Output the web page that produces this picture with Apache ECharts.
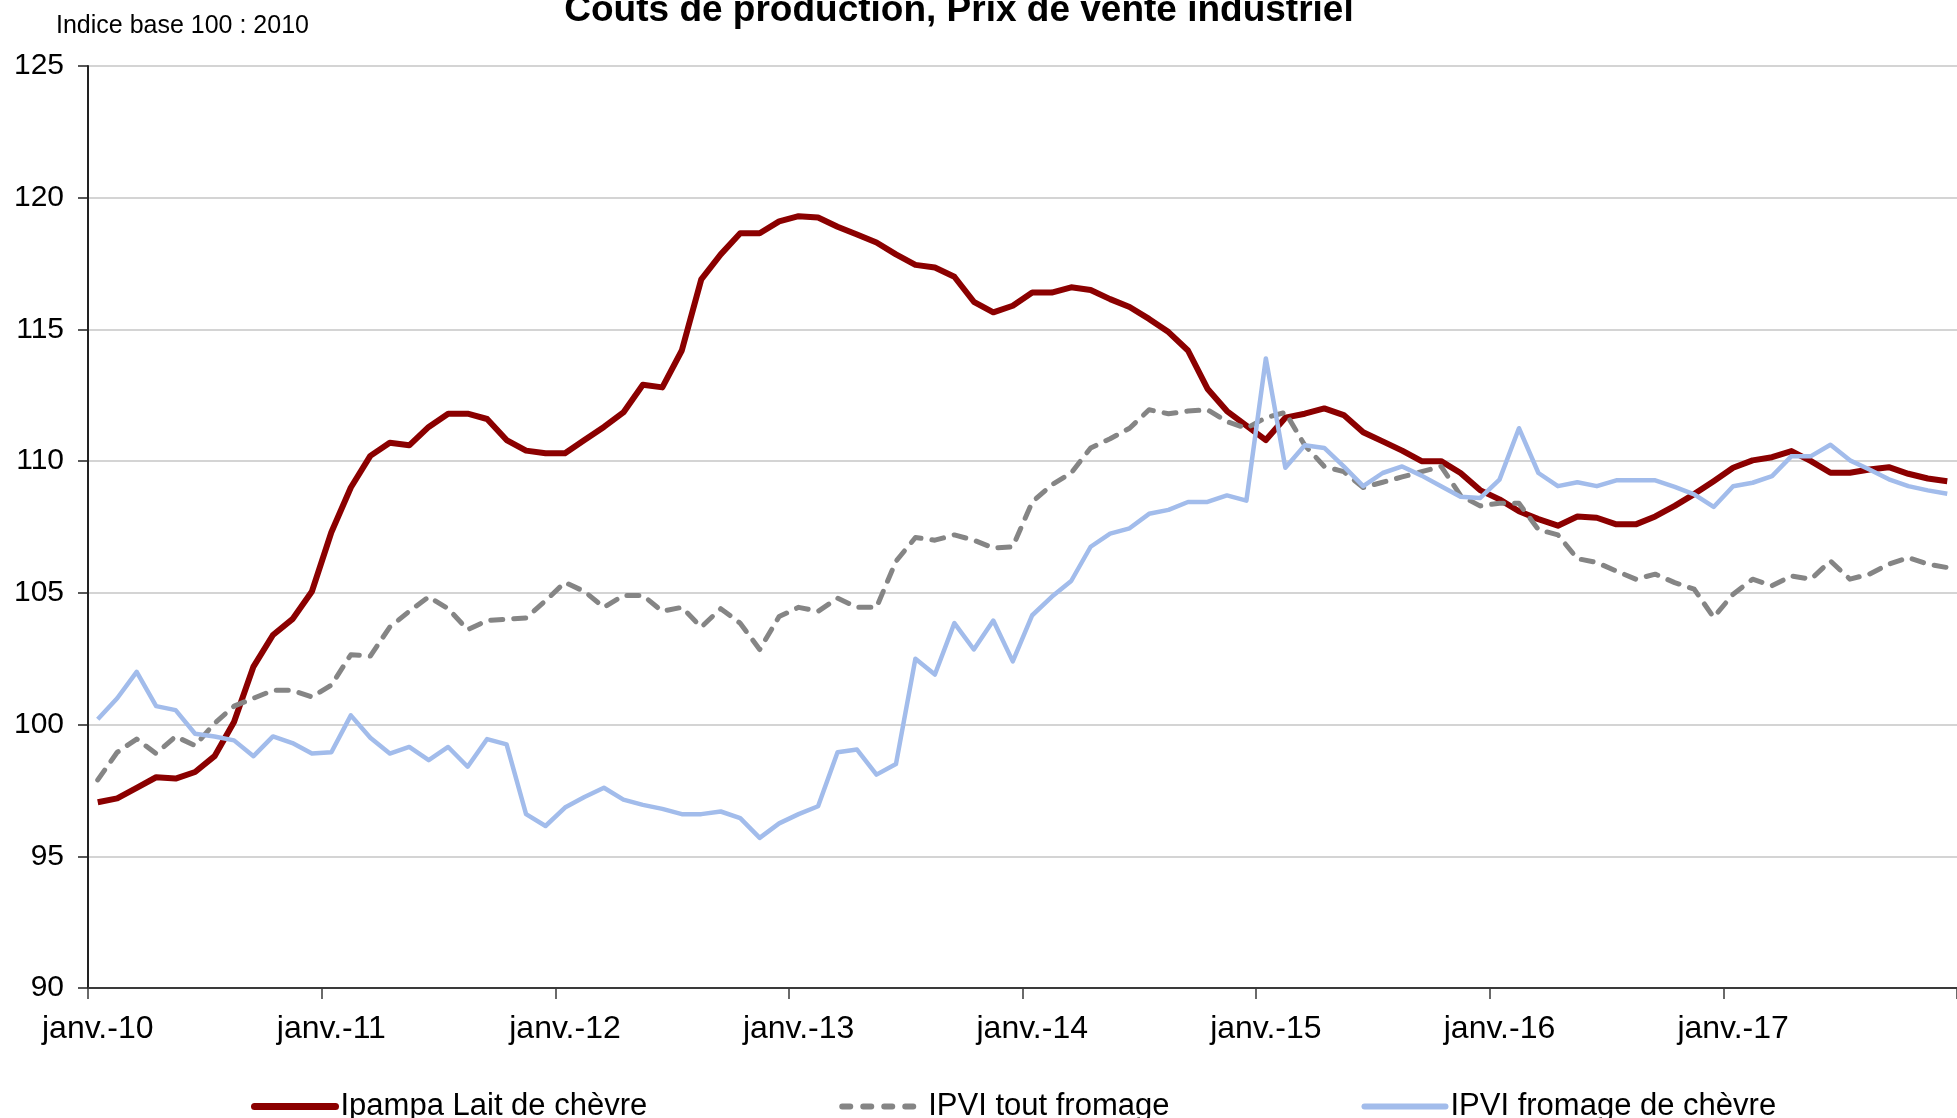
<!DOCTYPE html>
<html>
<head>
    <meta charset="utf-8">
    <title>Coûts de production, Prix de vente industriel</title>
    <script src="https://cdn.jsdelivr.net/npm/echarts@6/dist/echarts.min.js"></script>
    <style>
        html, body { margin: 0; padding: 0; background: #fff; }
        #main { width: 1957px; height: 1118px; }
    </style>
</head>
<body>
    <div id="main"></div>
    <script type="text/javascript">
        // mois de janv.-10 à déc.-17
        var moisNoms = ['janv.', 'févr.', 'mars', 'avr.', 'mai', 'juin', 'juil.', 'août', 'sept.', 'oct.', 'nov.', 'déc.'];
        var annees = ['10', '11', '12', '13', '14', '15', '16', '17'];
        var categories = [];
        for (var a = 0; a < annees.length; a++) {
            for (var m = 0; m < moisNoms.length; m++) {
                categories.push(moisNoms[m] + '-' + annees[a]);
            }
        }

        var seriesNames = ['Ipampa Lait de chèvre', 'IPVI tout fromage', 'IPVI fromage de chèvre'];

        var ipampaLait = [
            97.05, 97.2, 97.6, 98.0, 97.95, 98.2, 98.8, 100.1, 102.2, 103.4, 104.0, 105.05,
            107.3, 109.0, 110.2, 110.7, 110.6, 111.3, 111.8, 111.8, 111.6, 110.8, 110.4, 110.3,
            110.3, 110.8, 111.3, 111.85, 112.9, 112.8, 114.2, 116.9, 117.85, 118.65, 118.65, 119.1,
            119.3, 119.25, 118.9, 118.6, 118.3, 117.85, 117.45, 117.35, 117.0, 116.05, 115.65, 115.9,
            116.4, 116.4, 116.6, 116.5, 116.15, 115.85, 115.4, 114.9, 114.2, 112.75, 111.9, 111.35,
            110.8, 111.65, 111.8, 112.0, 111.75, 111.1, 110.75, 110.4, 110.0, 110.0, 109.55, 108.9,
            108.55, 108.1, 107.8, 107.55, 107.9, 107.85, 107.6, 107.6, 107.9, 108.3, 108.75, 109.24,
            109.75, 110.03, 110.15, 110.38, 110.0, 109.56, 109.56, 109.68, 109.77, 109.52, 109.34, 109.24
        ];
        var ipviToutFromage = [
            97.9, 98.95, 99.45, 98.9, 99.55, 99.2, 100.05, 100.7, 101.0, 101.3, 101.3, 101.05,
            101.5, 102.65, 102.6, 103.7, 104.3, 104.85, 104.4, 103.6, 103.95, 104.0, 104.05, 104.7,
            105.4, 105.05, 104.45, 104.9, 104.9, 104.3, 104.45, 103.7, 104.4, 103.85, 102.85, 104.1,
            104.45, 104.3, 104.8, 104.45, 104.45, 106.2, 107.1, 107.0, 107.2, 107.0, 106.7, 106.75,
            108.45, 109.1, 109.55, 110.5, 110.85, 111.25, 111.95, 111.8, 111.9, 111.95, 111.5, 111.25,
            111.65, 111.85, 110.6, 109.8, 109.6, 109.0, 109.2, 109.4, 109.6, 109.8, 108.7, 108.3,
            108.4, 108.4, 107.4, 107.2, 106.3, 106.15, 105.83, 105.52, 105.71, 105.39, 105.14, 104.07,
            104.95, 105.52, 105.27, 105.64, 105.52, 106.21, 105.52, 105.71, 106.09, 106.34, 106.09, 105.96
        ];
        var ipviChevre = [
            100.2, 101.0, 102.0, 100.7, 100.55, 99.65, 99.55, 99.4, 98.8, 99.55, 99.3, 98.9,
            98.95, 100.35, 99.5, 98.9, 99.15, 98.65, 99.15, 98.4, 99.45, 99.25, 96.6, 96.15,
            96.85, 97.25, 97.6, 97.15, 96.95, 96.8, 96.6, 96.6, 96.7, 96.45, 95.7, 96.25,
            96.6, 96.9, 98.95, 99.05, 98.1, 98.5, 102.5, 101.9, 103.85, 102.85, 103.95, 102.4,
            104.15, 104.85, 105.45, 106.75, 107.25, 107.45, 108.0, 108.15, 108.45, 108.45, 108.7, 108.5,
            113.9, 109.75, 110.6, 110.5, 109.8, 109.05, 109.55, 109.8, 109.45, 109.05, 108.65, 108.6,
            109.3, 111.25, 109.55, 109.05, 109.2, 109.05, 109.27, 109.27, 109.27, 109.02, 108.74, 108.26,
            109.05, 109.18, 109.43, 110.19, 110.19, 110.62, 110.03, 109.68, 109.31, 109.05, 108.89, 108.76
        ];

        var yMin = 90, yMax = 125, yStep = 5;
        var police = 'Liberation Sans, Arial, sans-serif';
        var couleurs = ['#8b0000', '#858585', '#a2bceb'];

        var myChart = echarts.init(document.getElementById('main'));
        var option = {
            backgroundColor: '#ffffff',
            animation: false,
            title: [
                {
                    text: 'Coûts de production, Prix de vente industriel',
                    left: 954,
                    top: -13,
                    textAlign: 'center',
                    textStyle: { fontFamily: police, fontSize: 37, fontWeight: 'bold', color: '#000' }
                },
                {
                    text: 'Indice base 100 : 2010',
                    left: 51,
                    top: 9,
                    textStyle: { fontFamily: police, fontSize: 25, fontWeight: 'normal', color: '#000' }
                }
            ],
            legend: {
                data: [
                    { name: seriesNames[0], itemStyle: { opacity: 0 }, lineStyle: { width: 7, cap: 'round' } },
                    { name: seriesNames[1], itemStyle: { opacity: 0 }, lineStyle: { width: 6, cap: 'round', type: [8, 13] } },
                    { name: seriesNames[2], itemStyle: { opacity: 0 }, lineStyle: { width: 6, cap: 'round' } }
                ],
                left: 246,
                top: 1086,
                itemWidth: 81,
                itemHeight: 14,
                itemGap: 192,
                textStyle: { fontFamily: police, fontSize: 31, color: '#000' }
            },
            grid: {
                left: 88,
                top: 66,
                width: 1890,
                height: 922
            },
            xAxis: [
                {
                    type: 'category',
                    boundaryGap: true,
                    data: categories,
                    axisLine: { show: true, lineStyle: { color: '#3a3a3a', width: 2 } },
                    axisTick: {
                        show: true,
                        interval: function (i) { return i % 12 === 0; },
                        length: 11,
                        lineStyle: { color: '#3a3a3a', width: 1.5 }
                    },
                    axisLabel: {
                        interval: function (i) { return i % 12 === 0; },
                        margin: 25,
                        fontFamily: police,
                        fontSize: 32,
                        color: '#000'
                    },
                    splitLine: { show: false }
                }
            ],
            yAxis: [
                {
                    type: 'value',
                    min: yMin,
                    max: yMax,
                    interval: yStep,
                    axisLine: { show: true, lineStyle: { color: '#222', width: 2 } },
                    axisTick: { show: true, inside: false, length: 10, lineStyle: { color: '#222', width: 1.5 } },
                    axisLabel: { margin: 24, fontFamily: police, fontSize: 30, color: '#000' },
                    splitLine: { show: true, lineStyle: { color: '#c6c6c6', width: 1.5 } }
                }
            ],
            series: [
                {
                    name: seriesNames[0],
                    type: 'line',
                    data: ipampaLait,
                    symbol: 'none',
                    color: couleurs[0],
                    lineStyle: { color: couleurs[0], width: 6, join: 'round' }
                },
                {
                    name: seriesNames[1],
                    type: 'line',
                    data: ipviToutFromage,
                    symbol: 'none',
                    color: couleurs[1],
                    lineStyle: { color: couleurs[1], width: 5, type: [12, 11], cap: 'round', join: 'round' }
                },
                {
                    name: seriesNames[2],
                    type: 'line',
                    data: ipviChevre,
                    symbol: 'none',
                    color: couleurs[2],
                    lineStyle: { color: couleurs[2], width: 4.5, join: 'round' }
                }
            ]
        };

        myChart.setOption(option);
    </script>
</body>
</html>
